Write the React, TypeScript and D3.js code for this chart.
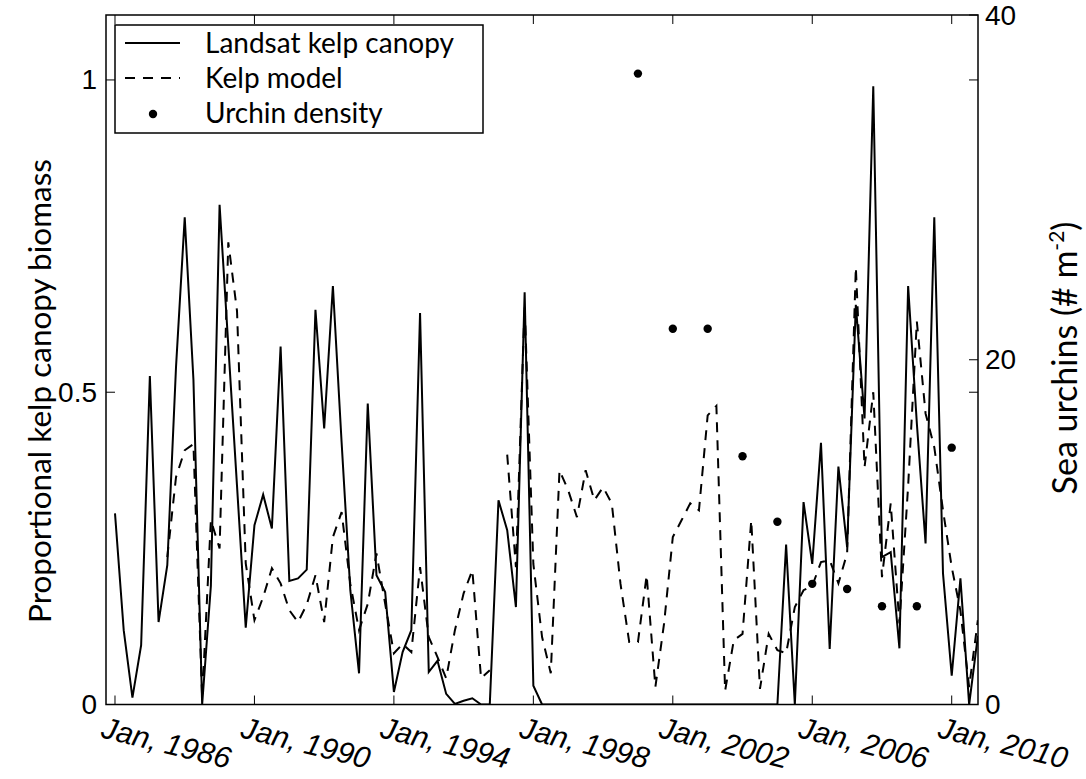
import React from 'react';
import * as d3 from 'd3';

// Quarterly series starting Jan 1986 (index i -> 1986 + i/4)
const startYear = 1986;

const landsatKelp: number[] = [
  0.306, 0.119, 0.011, 0.095, 0.526, 0.132, 0.223, 0.54, 0.78, 0.52,
  0.0, 0.19, 0.8, 0.575, 0.35, 0.123, 0.287, 0.336, 0.282, 0.573,
  0.198, 0.202, 0.216, 0.632, 0.442, 0.67, 0.42, 0.183, 0.05, 0.482,
  0.207, 0.18, 0.02, 0.084, 0.119, 0.627, 0.052, 0.07, 0.017, 0.001,
  0.006, 0.01, 0.0, 0.0, 0.327, 0.279, 0.156, 0.66, 0.03, 0.0,
  0.0, 0.0, 0.0, 0.0, 0.0, 0.0, 0.0, 0.0, 0.0, 0.0,
  0.0, 0.0, 0.0, 0.0, 0.0, 0.0, 0.0, 0.0, 0.0, 0.0,
  0.0, 0.0, 0.0, 0.0, 0.0, 0.0, 0.0, 0.256, 0.0, 0.324,
  0.225, 0.419, 0.089, 0.381, 0.252, 0.64, 0.458, 0.99, 0.236, 0.244,
  0.09, 0.67, 0.45, 0.258, 0.78, 0.21, 0.046, 0.202, 0.0, 0.11,
];

const kelpModel: (number | null)[] = [
  null, null, null, null, null, null, 0.236, 0.364, 0.407, 0.417,
  0.01, 0.295, 0.25, 0.74, 0.63, 0.226, 0.135, 0.172, 0.218, 0.194,
  0.151, 0.132, 0.16, 0.207, 0.132, 0.268, 0.308, 0.193, 0.119, 0.161,
  0.242, 0.161, 0.082, 0.097, 0.084, 0.22, 0.108, 0.076, 0.042, 0.119,
  0.178, 0.215, 0.042, 0.055, null, 0.4, 0.22, 0.64, 0.225, 0.108,
  0.05, 0.375, 0.343, 0.3, 0.375, 0.327, 0.348, 0.322, 0.193, 0.1,
  0.1, 0.207, 0.028, 0.13, 0.268, 0.295, 0.322, 0.311, 0.463, 0.478,
  0.022, 0.103, 0.113, 0.295, 0.025, 0.113, 0.087, 0.082, 0.156, 0.183,
  0.19, 0.228, 0.231, 0.194, 0.242, 0.7, 0.38, 0.5, 0.204, 0.322,
  0.13, 0.35, 0.613, 0.466, 0.412, 0.311, 0.22, 0.15, 0.028, 0.135,
];

const urchinYears: number[] = [2001, 2002, 2003, 2004, 2005, 2006, 2007, 2008, 2009, 2010];
const urchinDensity: number[] = [36.6, 21.8, 21.8, 14.4, 10.6, 7.0, 6.7, 5.7, 5.7, 14.9];

const xTickYears: number[] = [1986, 1990, 1994, 1998, 2002, 2006, 2010];
const xTickLabels: string[] = xTickYears.map((y) => `Jan, ${y}`);
const leftTicks: number[] = [0, 0.5, 1];
const leftTickLabels: string[] = ['0', '0.5', '1'];
const rightTicks: number[] = [0, 20, 40];
const rightTickLabels: string[] = ['0', '20', '40'];

const legendItems: string[] = ['Landsat kelp canopy', 'Kelp model', 'Urchin density'];

export default function App() {
  const W = 1086;
  const H = 779;
  const L = 106, R = 978, T = 15, B = 704.5;

  const x = d3.scaleLinear().domain([1985.742, 2010.754]).range([L, R]);
  const yL = d3.scaleLinear().domain([0, 1.104]).range([B, T]);
  const yR = d3.scaleLinear().domain([0, 40]).range([B, T]);
  const tOf = (i: number) => startYear + i / 4;

  const solidPath = d3
    .line<number>()
    .x((_d, i) => x(tOf(i)))
    .y((d) => yL(d))(landsatKelp) as string;

  const dashedPath = d3
    .line<number | null>()
    .defined((d) => d != null)
    .x((_d, i) => x(tOf(i)))
    .y((d) => yL(d as number))(kelpModel) as string;

  const tickFont = "'Liberation Sans', Arial, Helvetica, sans-serif";
  const labelFont = "Lato, 'Open Sans', sans-serif";
  const tickLen = 9;

  return (
    <svg
      width={W}
      height={H}
      style={{ position: 'absolute', left: 0, top: 0, background: '#fff' }}
    >
      <rect x={0} y={0} width={W} height={H} fill="#fff" />
      <defs>
        <clipPath id="plotclip">
          <rect x={L} y={T} width={R - L} height={B - T} />
        </clipPath>
      </defs>

      {/* data */}
      <g clipPath="url(#plotclip)">
        <path d={dashedPath} fill="none" stroke="#000" strokeWidth={2} strokeDasharray="10,8" />
        <path d={solidPath} fill="none" stroke="#000" strokeWidth={2} strokeLinejoin="miter" />
        {urchinYears.map((yr, k) => (
          <circle key={yr} cx={x(yr)} cy={yR(urchinDensity[k])} r={4.2} fill="#000" />
        ))}
      </g>

      {/* axes box */}
      <rect x={L} y={T} width={R - L} height={B - T} fill="none" stroke="#000" strokeWidth={1.5} />

      {/* x ticks bottom and top */}
      {xTickYears.map((yr, k) => {
        const px = x(yr);
        return (
          <g key={yr}>
            <line x1={px} x2={px} y1={B} y2={B - tickLen} stroke="#000" strokeWidth={1} />
            <line x1={px} x2={px} y1={T} y2={T + tickLen} stroke="#000" strokeWidth={1} />
            <text
              transform={`translate(${px - 15},${737}) rotate(14)`}
              fontFamily={tickFont}
              fontStyle="italic"
              fontSize={30}
              fill="#000"
            >
              {xTickLabels[k]}
            </text>
          </g>
        );
      })}

      {/* left ticks (mirrored on right side) */}
      {leftTicks.map((v, k) => {
        const py = yL(v);
        return (
          <g key={'l' + v}>
            <line x1={L} x2={L + tickLen} y1={py} y2={py} stroke="#000" strokeWidth={1} />
            <line x1={R} x2={R - tickLen} y1={py} y2={py} stroke="#000" strokeWidth={1} />
            <text
              x={97}
              y={py}
              textAnchor="end"
              dominantBaseline="central"
              fontFamily={tickFont}
              fontSize={28}
              fill="#000"
            >
              {leftTickLabels[k]}
            </text>
          </g>
        );
      })}

      {/* right ticks */}
      {rightTicks.map((v, k) => {
        const py = yR(v);
        return (
          <g key={'r' + v}>
            <line x1={R} x2={R - tickLen} y1={py} y2={py} stroke="#000" strokeWidth={1} />
            <text
              x={985}
              y={py}
              textAnchor="start"
              dominantBaseline="central"
              fontFamily={tickFont}
              fontSize={28}
              fill="#000"
            >
              {rightTickLabels[k]}
            </text>
          </g>
        );
      })}

      {/* axis labels */}
      <text
        transform={`translate(51,391) rotate(-90)`}
        textAnchor="middle"
        fontFamily={labelFont}
        fontSize={31.5}
        fill="#000"
      >
        Proportional kelp canopy biomass
      </text>
      <text
        transform={`translate(1077,358) rotate(-90)`}
        textAnchor="middle"
        fontFamily={labelFont}
        fontSize={34}
        fill="#000"
      >
        Sea urchins (# m
        <tspan fontSize={21} dy={-13}>-2</tspan>
        <tspan dy={13}>)</tspan>
      </text>

      {/* legend */}
      <g>
        <rect x={115} y={25} width={368} height={108} fill="#fff" stroke="#000" strokeWidth={1.5} />
        <line x1={125} x2={180} y1={43} y2={43} stroke="#000" strokeWidth={2} />
        <line x1={125} x2={180} y1={78} y2={78} stroke="#000" strokeWidth={2} strokeDasharray="10,8" />
        <circle cx={153} cy={114} r={4.2} fill="#000" />
        {legendItems.map((s, k) => (
          <text
            key={s}
            x={205}
            y={53 + k * 35}
            fontFamily={labelFont}
            fontSize={28}
            fill="#000"
          >
            {s}
          </text>
        ))}
      </g>
    </svg>
  );
}
